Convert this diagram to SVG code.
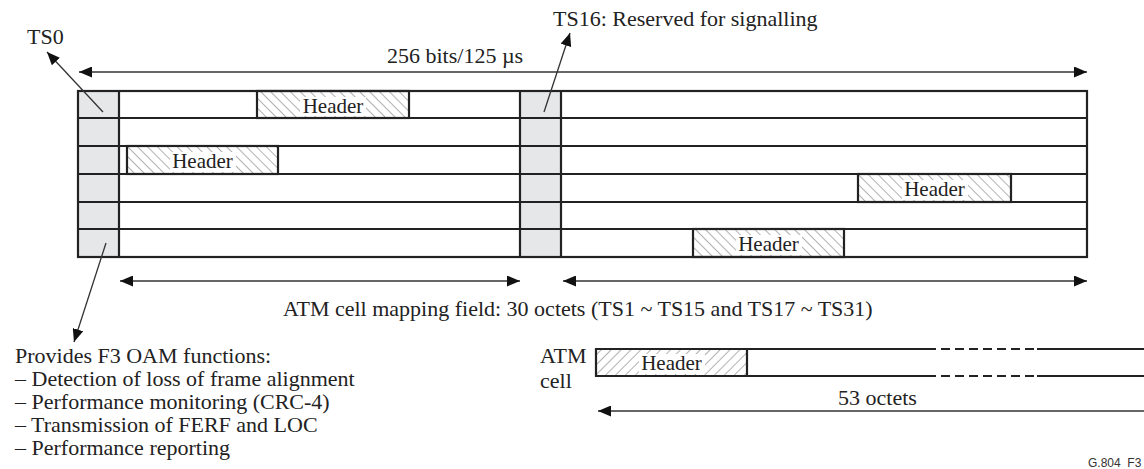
<svg xmlns="http://www.w3.org/2000/svg" width="1144" height="469" viewBox="0 0 1144 469">
<style>
.t{font-family:"Liberation Serif","Times New Roman",serif;font-size:22px;fill:#222}
.h{font-family:"Liberation Serif","Times New Roman",serif;font-size:21px;fill:#222;text-anchor:middle}
.fr{fill:none;stroke:#222;stroke-width:2.2}
.col{fill:#e6e7e9;stroke:none}
.bg{fill:#fff;stroke:none}
.ar{fill:none;stroke:#333;stroke-width:1.3}
.hb{stroke:#222;stroke-width:2.2}
</style>
<defs>
<marker id="ah" viewBox="0 0 13 11" refX="13" refY="5.5" markerWidth="13" markerHeight="11" markerUnits="userSpaceOnUse" orient="auto-start-reverse">
<path d="M0,0 L13,5.5 L0,11 Z" fill="#111"/>
</marker>
<pattern id="hatchB" patternUnits="userSpaceOnUse" width="7" height="7" patternTransform="rotate(-45)">
<line x1="0" y1="0" x2="0" y2="7" stroke="#666" stroke-width="1"/>
</pattern>
<pattern id="hatchF" patternUnits="userSpaceOnUse" width="7" height="7" patternTransform="rotate(45)">
<line x1="0" y1="0" x2="0" y2="7" stroke="#666" stroke-width="1"/>
</pattern>
</defs>
<rect width="1144" height="469" fill="#fff"/>

<g id="frame">
<rect class="col" x="78" y="91" width="41" height="166"/>
<rect class="col" x="520" y="91" width="41" height="166"/>
<g id="hdr1">
<rect x="257" y="91" width="152" height="27" fill="url(#hatchB)" class="hb"/>
<rect class="bg" x="300" y="97" width="66" height="19"/>
<text class="h" x="333" y="113">Header</text>
</g>
<g id="hdr2">
<rect x="127" y="146" width="151" height="28" fill="url(#hatchB)" class="hb"/>
<rect class="bg" x="170" y="152" width="66" height="20"/>
<text class="h" x="202.5" y="168">Header</text>
</g>
<g id="hdr3">
<rect x="858" y="174" width="153" height="28" fill="url(#hatchB)" class="hb"/>
<rect class="bg" x="902" y="180" width="66" height="20"/>
<text class="h" x="934.5" y="196">Header</text>
</g>
<g id="hdr4">
<rect x="693" y="229" width="151" height="28" fill="url(#hatchB)" class="hb"/>
<rect class="bg" x="736" y="235" width="66" height="20"/>
<text class="h" x="768.5" y="251">Header</text>
</g>
<rect class="fr" x="78" y="91" width="1009" height="166"/>
<path class="fr" d="M78,118H1087M78,146H1087M78,174H1087M78,202H1087M78,229H1087M119,91V257M520,91V257M561,91V257"/>
</g>

<g id="atmcell">
<rect x="596" y="349" width="151" height="27" fill="url(#hatchF)" stroke="none"/>
<rect class="bg" x="639" y="354" width="66" height="20"/>
<text class="h" x="671.5" y="370">Header</text>
<path class="fr" d="M1150,349H1037M927,349H596V376H927M1037,376H1150M747,349V376"/>
<path class="fr" d="M927,349H1037M927,376H1037" stroke-dasharray="9 5"/>
<text class="t" x="540" y="363">ATM</text>
<text class="t" x="540" y="388">cell</text>
</g>

<g id="labels">
<text class="t" x="27" y="44">TS0</text>
<text class="t" x="387" y="63">256 bits/125 µs</text>
<text class="t" x="553" y="26">TS16: Reserved for signalling</text>
<text class="t" x="283" y="316">ATM cell mapping field: 30 octets (TS1 ~ TS15 and TS17 ~ TS31)</text>
<text class="t" x="838" y="405">53 octets</text>
<text class="t" x="15" y="363">Provides F3 OAM functions:</text>
<text class="t" x="15" y="386">– Detection of loss of frame alignment</text>
<text class="t" x="15" y="409">– Performance monitoring (CRC-4)</text>
<text class="t" x="15" y="432">– Transmission of FERF and LOC</text>
<text class="t" x="15" y="455">– Performance reporting</text>
<text x="1088" y="467" style="font-family:'Liberation Sans',Arial,sans-serif;font-size:12px;fill:#333">G.804_F3</text>
</g>

<g id="connectors">
<line class="ar" x1="79" y1="72" x2="1087" y2="72" marker-start="url(#ah)" marker-end="url(#ah)"/>
<line class="ar" x1="103" y1="112" x2="47" y2="52" marker-end="url(#ah)"/>
<line class="ar" x1="544" y1="112" x2="570" y2="33" marker-end="url(#ah)"/>
<line class="ar" x1="106" y1="243" x2="74" y2="342" marker-end="url(#ah)"/>
<line class="ar" x1="120" y1="281" x2="520" y2="281" marker-start="url(#ah)" marker-end="url(#ah)"/>
<line class="ar" x1="563" y1="281" x2="1087" y2="281" marker-start="url(#ah)" marker-end="url(#ah)"/>
<line class="ar" x1="598" y1="411" x2="1150" y2="411" marker-start="url(#ah)"/>
</g>
</svg>
